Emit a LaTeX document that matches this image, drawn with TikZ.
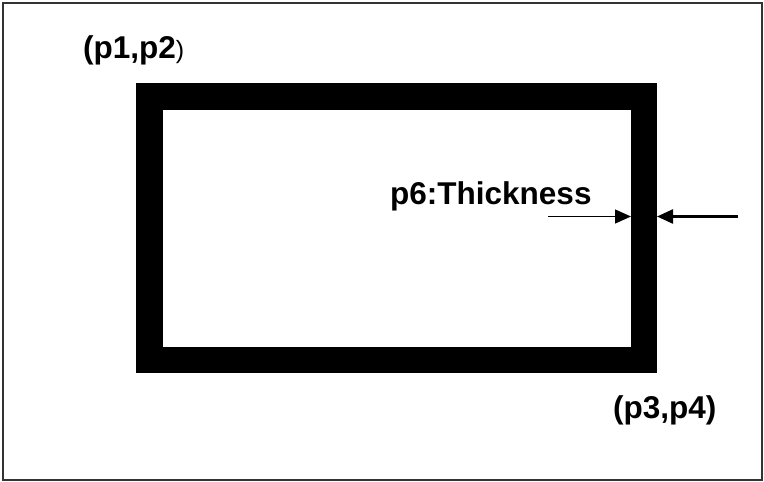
\documentclass[tikz,border=0pt]{standalone}
\usepackage{fontspec}
\setmainfont{Liberation Sans}
\usepackage{tikz}
\usetikzlibrary{shapes,arrows.meta, positioning}
\tikzstyle{lbl} = [anchor=base west, inner sep = 0pt, font=\fontsize{31.5}{32}\selectfont\bfseries]
\tikzstyle{frame} = [draw, line width = 26.5pt]
\tikzstyle{border} = [draw, black!80, line width = 1.6pt]
\tikzstyle{thinarr} = [draw, line width = 1.2pt, -{Triangle[length=16pt, width=14pt]}]
\tikzstyle{thickarr} = [draw, line width = 2.4pt, -{Triangle[length=16pt, width=14pt]}]

\begin{document}
\begin{tikzpicture}[x=1pt, y=-1pt]
			\useasboundingbox (0,0) rectangle (764,482);
			\path [border] (3,3) rectangle (762,480);
			\path [frame] (149.5,96.5) rectangle (644,360);

			\node [lbl] (p12) at (83, 58) {(p1,p2{\fontsize{25}{26}\selectfont\mdseries)}};
			\node [lbl] (p6) at (390, 204) {p6:Thickness};
			\node [lbl] (p34) at (613, 418) {(p3,p4)};

			\coordinate (lstart) at (548, 216.5);
			\coordinate (ltip) at (631, 216.5);
			\coordinate (rstart) at (738, 216.5);
			\coordinate (rtip) at (657, 216.5);

			\path [thinarr] (lstart) -- (ltip);
			\path [thickarr] (rstart) -- (rtip);
		\end{tikzpicture}
\end{document}
